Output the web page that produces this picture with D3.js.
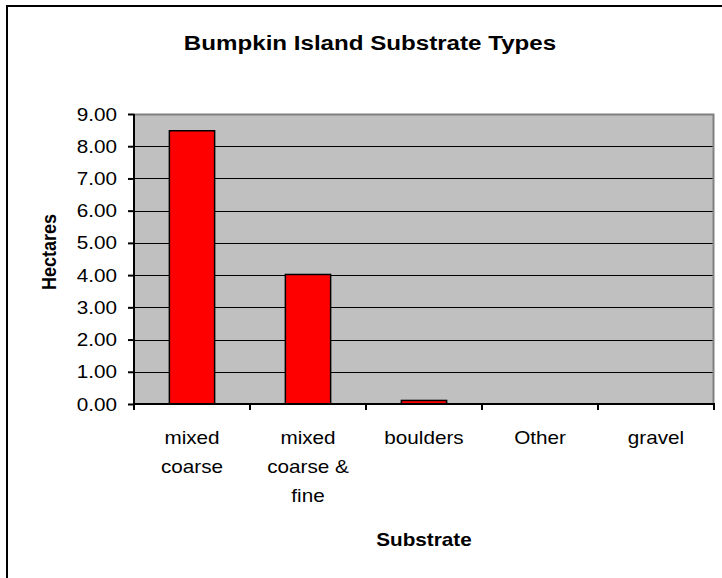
<!DOCTYPE html>
<html>
<head>
<meta charset="utf-8">
<script src="https://cdn.jsdelivr.net/npm/d3@7"></script>
<style>
  html, body { margin: 0; padding: 0; background: #fff; }
  svg { display: block; font-family: Arial, "Liberation Sans", sans-serif; }
</style>
</head>
<body>
<svg id="chart" width="722" height="578"></svg>
<script>
const categories = ["mixed coarse", "mixed coarse & fine", "boulders", "Other", "gravel"];
const categoryLines = [["mixed", "coarse"], ["mixed", "coarse &", "fine"], ["boulders"], ["Other"], ["gravel"]];
const hectares = [8.48, 4.02, 0.11, 0, 0];
const yTicks = [0, 1, 2, 3, 4, 5, 6, 7, 8, 9];
const titleText = "Bumpkin Island Substrate Types";
const xTitle = "Substrate";
const yTitle = "Hectares";

const svg = d3.select("#chart");
const plot = { left: 134, right: 714, top: 114, bottom: 404 };
const SX = 1.15; // horizontal stretch of the text in the reference

function stretchedText(g, px, py, str, opts) {
  const t = g.append("text")
    .attr("transform", `translate(${px},${py}) scale(${SX},1)`)
    .attr("x", 0).attr("y", 0)
    .attr("text-anchor", opts.anchor || "middle")
    .attr("font-size", opts.size || 18)
    .attr("font-weight", opts.weight || "normal")
    .attr("fill", "#000")
    .text(str);
  return t;
}

// outer frame (extends past right and bottom edge)
svg.append("rect")
  .attr("x", 7).attr("y", 6).attr("width", 760).attr("height", 620)
  .attr("fill", "#fff").attr("stroke", "#000").attr("stroke-width", 2);

const x = d3.scaleBand().domain(categories).range([plot.left, plot.right]).paddingInner(0).paddingOuter(0);
const y = d3.scaleLinear().domain([0, 9]).range([plot.bottom, plot.top]);

// plot area background
svg.append("rect")
  .attr("x", plot.left).attr("y", plot.top)
  .attr("width", plot.right - plot.left).attr("height", plot.bottom - plot.top)
  .attr("fill", "#C0C0C0");

// gridlines
svg.append("g").selectAll("line").data(yTicks.filter(d => d > 0 && d < 9)).join("line")
  .attr("x1", plot.left).attr("x2", plot.right)
  .attr("y1", d => Math.round(y(d)) + 0.5).attr("y2", d => Math.round(y(d)) + 0.5)
  .attr("stroke", "#000").attr("stroke-width", 1);

// top and right plot border (gray)
svg.append("path")
  .attr("d", `M${plot.left},${plot.top + 0.5}H${plot.right - 0.5}V${plot.bottom}`)
  .attr("fill", "none").attr("stroke", "#808080").attr("stroke-width", 2);

// bars
const barW = x.bandwidth() * 0.39;
svg.append("g").selectAll("rect").data(hectares).join("rect")
  .attr("x", (d, i) => x(categories[i]) + (x.bandwidth() - barW) / 2)
  .attr("y", d => y(d))
  .attr("width", barW)
  .attr("height", d => y(0) - y(d))
  .attr("fill", "#FF0000")
  .attr("stroke", "#000").attr("stroke-width", 1.5)
  .style("display", d => d > 0 ? null : "none");

// y axis
const yAxis = d3.axisLeft(y).tickValues(yTicks).tickFormat("").tickSize(6);
const yg = svg.append("g").attr("transform", `translate(${plot.left},0)`).call(yAxis);
yg.select(".domain").attr("stroke", "#000").attr("stroke-width", 2).attr("d", `M0,${plot.top}V${plot.bottom + 1}`);
yg.selectAll(".tick line").attr("stroke", "#000").attr("stroke-width", 2);
const fmt = d3.format(".2f");
const ylab = svg.append("g");
yTicks.forEach(v => stretchedText(ylab, 117, y(v) + 6.5, fmt(v), { anchor: "end", size: 18 }));

// x axis
const xg = svg.append("g").attr("transform", `translate(0,${plot.bottom})`);
xg.append("line").attr("x1", plot.left - 1).attr("x2", plot.right + 1).attr("y1", 0).attr("y2", 0)
  .attr("stroke", "#000").attr("stroke-width", 2);
const boundaries = categories.map(c => x(c)).concat([plot.right]);
xg.selectAll("line.tk").data(boundaries).join("line").attr("class", "tk")
  .attr("x1", d => d).attr("x2", d => d).attr("y1", 0).attr("y2", 6)
  .attr("stroke", "#000").attr("stroke-width", 2);

const lbl = svg.append("g");
categories.forEach((c, i) => {
  const cx = x(c) + x.bandwidth() / 2;
  categoryLines[i].forEach((line, j) => {
    stretchedText(lbl, cx, 443.5 + j * 29, line, { size: 18 });
  });
});

// titles
stretchedText(svg, 370, 50, titleText, { size: 21, weight: "bold" });
stretchedText(svg, (plot.left + plot.right) / 2, 546, xTitle, { size: 18, weight: "bold" });
svg.append("text").attr("transform", `translate(56,252) rotate(-90) scale(1,${SX})`).attr("text-anchor", "middle")
  .attr("font-size", 18).attr("font-weight", "bold").text(yTitle);
</script>
</body>
</html>
